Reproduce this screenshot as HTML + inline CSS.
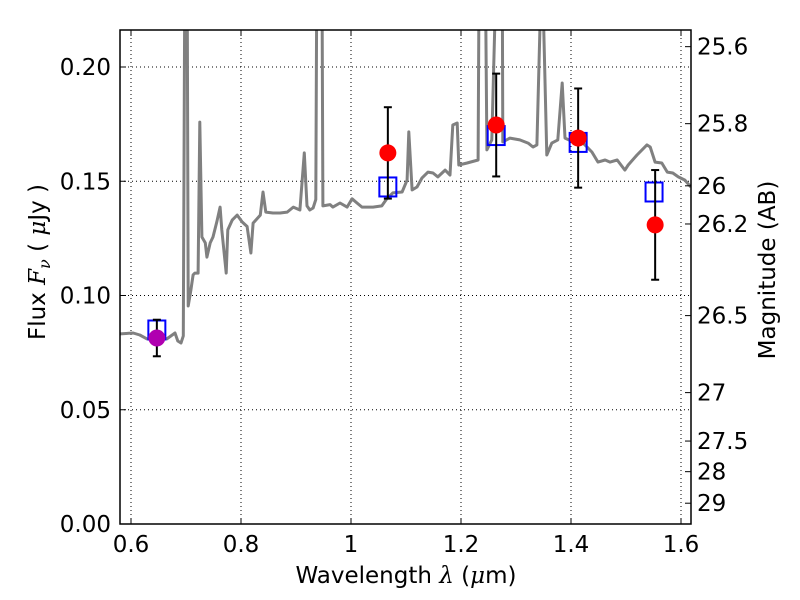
<!DOCTYPE html>
<html><head><meta charset="utf-8"><style>
body{margin:0;background:#fff;}
svg{display:block;font-family:"DejaVu Sans","Liberation Sans",sans-serif;}
</style></head><body>
<svg id="chart" width="800" height="600"></svg>
<script>
const specWl=[0.580,0.604,0.616,0.629,0.665,0.680,0.685,0.691,0.695,0.698,0.702,0.704,0.709,0.713,0.716,0.722,0.725,0.729,0.735,0.738,0.744,0.749,0.756,0.762,0.765,0.773,0.776,0.784,0.793,0.802,0.811,0.818,0.822,0.835,0.840,0.845,0.858,0.871,0.884,0.895,0.907,0.915,0.920,0.925,0.931,0.936,0.938,0.947,0.949,0.962,0.967,0.980,0.993,1.002,1.011,1.020,1.040,1.056,1.065,1.076,1.093,1.102,1.105,1.111,1.120,1.129,1.140,1.149,1.158,1.171,1.180,1.185,1.193,1.196,1.211,1.231,1.233,1.244,1.247,1.256,1.265,1.275,1.276,1.289,1.307,1.322,1.331,1.338,1.347,1.356,1.365,1.376,1.384,1.389,1.404,1.422,1.438,1.449,1.462,1.471,1.484,1.498,1.504,1.520,1.538,1.544,1.553,1.565,1.575,1.585,1.595,1.607,1.618];
const specFlux=[.0832,.0836,.0827,.0810,.0810,.0836,.0801,.0792,.0823,.25,.25,.0954,.1024,.1090,.1098,.1098,.1759,.1256,.1230,.1168,.1230,.1256,.1322,.1387,.1287,.1098,.1287,.1330,.1352,.1322,.1302,.1186,.1317,.1352,.1453,.1365,.1361,.1361,.1365,.1387,.1374,.1624,.1392,.1374,.1383,.1420,.25,.25,.1392,.1398,.1387,.1405,.1387,.1423,.1405,.1387,.1387,.1392,.1423,.1449,.1453,.1505,.1716,.1462,.1475,.1514,.1540,.1536,.1519,.1549,.1527,.1746,.1755,.1571,.1580,.1593,.25,.25,.1637,.1681,.25,.25,.1672,.1689,.1681,.1667,.1650,.1659,.25,.1615,.1667,.1681,.1930,.1689,.1672,.1667,.1628,.1584,.1593,.1584,.1593,.1549,.1571,.1615,.1659,.1650,.1584,.1580,.1540,.1536,.1519,.1505,.1475];
const modelWl=[0.647,1.067,1.264,1.413,1.551];
const modelFlux=[0.0849,0.1475,0.170,0.167,0.1453];
const obsWl=[0.647,1.067,1.264,1.413,1.553];
const obsFlux=[0.0814,0.1624,0.1746,0.1689,0.1309];
const obsErr=[0.008,0.020,0.0225,0.0217,0.024];
const obsColor=["#b000b0","red","red","red","red"];
const xTicks=[0.6,0.8,1.0,1.2,1.4,1.6];
const xTickLabels=["0.6","0.8","1","1.2","1.4","1.6"];
const yTicks=[0,0.05,0.10,0.15,0.20];
const yTickLabels=["0.00","0.05","0.10","0.15","0.20"];
const magLabels=["25.6","25.8","26","26.2","26.5","27","27.5","28","29"];
const magLabelFlux=[0.2089,0.1752,0.1480,0.1313,0.0912,0.0575,0.0363,0.0229,0.0091];

const L=120,R=691,T=30,B=524;
const X=v=>131+(v-0.6)*550;
const Y=v=>524-v*2285;
const NS="http://www.w3.org/2000/svg";
const svg=document.getElementById('chart');
function mk(tag,attrs,parent){const e=document.createElementNS(NS,tag);for(const k in attrs)e.setAttribute(k,attrs[k]);(parent||svg).appendChild(e);return e;}

const defs=mk('defs',{});
const cp=mk('clipPath',{id:'clip'},defs);mk('rect',{x:L,y:T,width:R-L,height:B-T},cp);

xTicks.forEach(t=>{const g=mk('line',{x1:X(t),x2:X(t),y1:T,y2:B,stroke:'#000','stroke-width':1,'stroke-dasharray':'1,3'});

});
yTicks.forEach(t=>{const g=mk('line',{x1:L,x2:R,y1:Y(t),y2:Y(t),stroke:'#000','stroke-width':1,'stroke-dasharray':'1,3'});

});

const pd=specWl.map((w,i)=>(i?'L':'M')+X(w).toFixed(1)+','+Y(specFlux[i]).toFixed(1)).join('');
const sp=mk('path',{d:pd,fill:'none',stroke:'#808080','stroke-width':3,'stroke-linejoin':'round','clip-path':'url(#clip)'});



modelWl.forEach((w,i)=>{const s=mk('rect',{x:X(w)-8.5,y:Y(modelFlux[i])-9.5,width:17,height:19,fill:'none',stroke:'#0000ff','stroke-width':2});

});

obsWl.forEach((w,i)=>{
const g=mk('g',{});


const x=X(w),y1=Y(obsFlux[i]+obsErr[i]),y2=Y(obsFlux[i]-obsErr[i]);
mk('line',{x1:x,x2:x,y1:y1,y2:y2,stroke:'#000','stroke-width':2},g);
mk('line',{x1:x-4,x2:x+4,y1:y1,y2:y1,stroke:'#000','stroke-width':2},g);
mk('line',{x1:x-4,x2:x+4,y1:y2,y2:y2,stroke:'#000','stroke-width':2},g);
mk('circle',{cx:x,cy:Y(obsFlux[i]),r:8.5,fill:obsColor[i]},g);});

const fr=mk('rect',{x:L,y:T,width:R-L,height:B-T,fill:'none',stroke:'#000','stroke-width':1.5});



xTicks.forEach((t,i)=>{const x=X(t);
mk('line',{x1:x,x2:x,y1:B,y2:B-6,stroke:'#000'});mk('line',{x1:x,x2:x,y1:T,y2:T+6,stroke:'#000'});
const tx=mk('text',{x:x,y:B+28,'font-size':23,'text-anchor':'middle'});tx.textContent=xTickLabels[i];

});
yTicks.forEach((t,i)=>{const y=Y(t);
mk('line',{x1:L,x2:L+6,y1:y,y2:y,stroke:'#000'});
const tx=mk('text',{x:L-9,y:y+8,'font-size':23,'text-anchor':'end'});tx.textContent=yTickLabels[i];

});
magLabels.forEach((m,i)=>{const y=Y(magLabelFlux[i]);
mk('line',{x1:R,x2:R-6,y1:y,y2:y,stroke:'#000'});
const tx=mk('text',{x:R+6,y:y+8,'font-size':23});tx.textContent=m;

});
</script>
<svg style="position:absolute;left:0;top:0" width="800" height="600" font-family="DejaVu Sans, Liberation Sans, sans-serif">
<text x="406" y="583" font-size="23" text-anchor="middle">Wavelength  <tspan font-style="italic" font-family="DejaVu Serif, serif">λ</tspan> (<tspan font-style="italic" font-family="DejaVu Serif, serif">μ</tspan>m)</text>
<text transform="translate(45,262) rotate(-90)" font-size="23" text-anchor="middle">Flux  <tspan font-style="italic" font-family="DejaVu Serif, serif">F<tspan font-size="16" dy="5">ν</tspan></tspan><tspan dy="-5">  (  </tspan><tspan font-style="italic" font-family="DejaVu Serif, serif">μ</tspan>Jy )</text>
<text transform="translate(775,270) rotate(-90)" font-size="23" text-anchor="middle">Magnitude (AB)</text>
</svg>
</body></html>
